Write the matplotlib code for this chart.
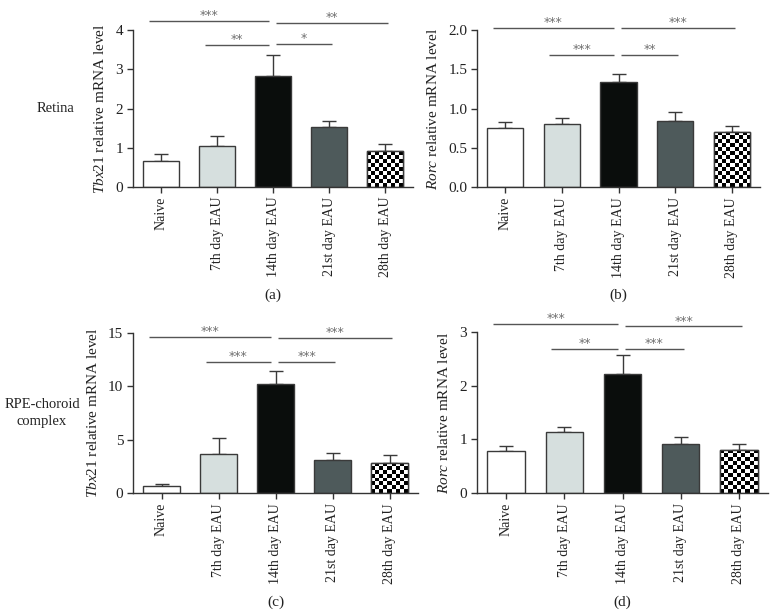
import numpy as np
import matplotlib
matplotlib.use("Agg")
import matplotlib.pyplot as plt

plt.rcParams['font.family'] = ['Liberation Serif', 'DejaVu Serif']
plt.rcParams['mathtext.fontset'] = 'custom'
plt.rcParams['mathtext.it'] = 'Liberation Serif:italic'
plt.rcParams['mathtext.rm'] = 'Liberation Serif'

categories = ["Naive", "7th day EAU", "14th day EAU", "21st day EAU", "28th day EAU"]

a_mean = [0.65, 1.04, 2.82, 1.53, 0.91]
a_err = [0.18, 0.25, 0.55, 0.14, 0.19]
b_mean = [0.76, 0.80, 1.34, 0.84, 0.70]
b_err = [0.07, 0.08, 0.10, 0.12, 0.08]
c_mean = [0.68, 3.67, 10.25, 3.08, 2.83]
c_err = [0.17, 1.53, 1.15, 0.72, 0.77]
d_mean = [0.79, 1.13, 2.21, 0.915, 0.81]
d_err = [0.09, 0.10, 0.36, 0.135, 0.10]

a_ticks = [0, 1, 2, 3, 4]
b_ticks = [0.0, 0.5, 1.0, 1.5, 2.0]
c_ticks = [0, 5, 10, 15]
d_ticks = [0, 1, 2, 3]

# significance: (i, j, level, label)
a_sig = [(0, 2, 4.24, "***"), (2, 4, 4.19, "**"), (1, 2, 3.62, "**"), (2, 3, 3.64, "*")]
b_sig = [(0, 2, 2.03, "***"), (2, 4, 2.03, "***"), (1, 2, 1.685, "***"), (2, 3, 1.685, "**")]
c_sig = [(0, 2, 14.6, "***"), (2, 4, 14.5, "***"), (1, 2, 12.27, "***"), (2, 3, 12.3, "***")]
d_sig = [(0, 2, 3.14, "***"), (2, 4, 3.10, "***"), (1, 2, 2.68, "**"), (2, 3, 2.68, "***")]

ylabels = [r"$\mathit{Tbx21}$ relative mRNA level", r"$\mathit{Rorc}$ relative mRNA level",
           r"$\mathit{Tbx21}$ relative mRNA level", r"$\mathit{Rorc}$ relative mRNA level"]
panel_letters = ["(a)", "(b)", "(c)", "(d)"]
row_labels = ["Retina", "RPE-choroid\ncomplex"]

colors = ["#ffffff", "#d6dfde", "#0a0d0c", "#4e5a5b", None]
edge = "#3a3a3a"

W, H = 775, 616
fig = plt.figure(figsize=(W / 100, H / 100), dpi=100)

def rect(l, r, t, b):
    return [l / W, 1 - b / H, (r - l) / W, (b - t) / H]

rects = [rect(133, 413, 30, 187), rect(477, 760, 30, 187.3),
         rect(133, 418, 332.7, 493.3), rect(477, 768, 331.7, 493.3)]
means = [a_mean, b_mean, c_mean, d_mean]
errs = [a_err, b_err, c_err, d_err]
ticks = [a_ticks, b_ticks, c_ticks, d_ticks]
sigs = [a_sig, b_sig, c_sig, d_sig]
ticklabels = [[str(t) for t in a_ticks], ["%.1f" % t for t in b_ticks],
              [str(t) for t in c_ticks], [str(t) for t in d_ticks]]

x = np.arange(len(categories))
for k in range(4):
    ax = fig.add_axes(rects[k])
    ax.set_xlim(-0.5, 4.5)
    ax.set_ylim(ticks[k][0], ticks[k][-1])
    bars = ax.bar(x, means[k], width=0.64, color=[c if c else "white" for c in colors],
                  edgecolor=edge, linewidth=1.0, zorder=2)
    ax.errorbar(x, means[k], yerr=[np.zeros(5), errs[k]], fmt="none", ecolor=edge,
                elinewidth=1.0, capsize=5, capthick=1.0, zorder=1)
    # checkerboard for the last bar
    bp = bars[4]
    x0, y0, bw, bh = bp.get_x(), bp.get_y(), bp.get_width(), bp.get_height()
    p0 = ax.transData.transform((x0, y0))
    p1 = ax.transData.transform((x0 + bw, y0 + bh))
    ncol = max(1, int(round((p1[0] - p0[0]) / 4.0)))
    nrow = max(1, int(round((p1[1] - p0[1]) / 4.0)))
    chk = (np.indices((nrow, ncol)).sum(axis=0) % 2).astype(float)
    im = ax.imshow(chk, cmap="gray", extent=(x0, x0 + bw, y0, y0 + bh), origin="lower",
                   interpolation="nearest", aspect="auto", zorder=2.5)
    im.set_clip_path(bp)
    ax.bar([x[4]], [means[k][4]], width=0.64, color="none", edgecolor=edge,
           linewidth=1.0, zorder=3)
    ax.set_xlim(-0.5, 4.5)
    ax.set_ylim(ticks[k][0], ticks[k][-1])

    for s in ["top", "right"]:
        ax.spines[s].set_visible(False)
    for s in ["left", "bottom"]:
        ax.spines[s].set_color("#333333")
        ax.spines[s].set_linewidth(1.0)
    ax.set_yticks(ticks[k])
    ax.set_yticklabels(ticklabels[k], fontsize=11, color="#222222")
    ax.set_xticks(x)
    ax.set_xticklabels(categories, rotation=90, fontsize=10, color="#222222")
    ax.tick_params(direction="out", length=4, width=1.0, color="#333333", pad=3)
    ax.set_ylabel(ylabels[k], fontsize=11, color="#222222", labelpad=6)

    for (i, j, lev, lab) in sigs[k]:
        if j == 2:
            xs, xe = i - 0.22, j - 0.08
        else:
            xs, xe = i + 0.05, j + 0.05
        ax.plot([xs, xe], [lev, lev], color="#555555", lw=1.0, clip_on=False,
                solid_capstyle="butt")
        ax.annotate(lab, xy=((xs + xe) / 2, lev), xytext=(0, 1.3), textcoords="offset points",
                    ha="center", va="baseline", fontsize=9, color="#707070",
                    family="DejaVu Sans", annotation_clip=False)

    r = rects[k]
    cx = (r[0] + r[2] / 2)
    fig.text(cx, (1 - (295 if k < 2 else 602) / H), panel_letters[k], ha="center",
             va="center", fontsize=11, color="#222222")

fig.text(55 / W, 1 - 108 / H, row_labels[0], ha="center", va="center", fontsize=10.5,
         color="#222222")
fig.text(42 / W, 1 - 413 / H, row_labels[1], ha="center", va="center", fontsize=10.5,
         color="#222222", linespacing=1.3)

fig.savefig("out.png", dpi=100)
